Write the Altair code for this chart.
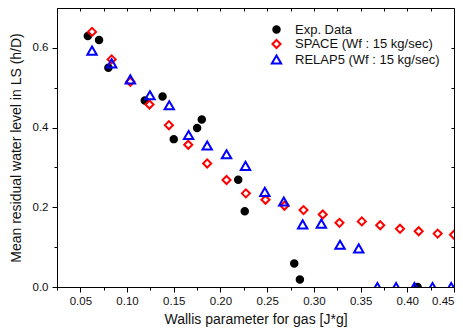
import altair as alt
import pandas as pd

series_names = ["Exp. Data", "SPACE (Wf : 15 kg/sec)", "RELAP5 (Wf : 15 kg/sec)"]

exp_x = [0.058, 0.070, 0.080, 0.119, 0.138, 0.150, 0.175, 0.180, 0.219, 0.226, 0.279, 0.285, 0.411]
exp_y = [0.63, 0.62, 0.55, 0.468, 0.478, 0.371, 0.399, 0.42, 0.269, 0.19, 0.059, 0.019, 0.0]

space_x = [0.0625, 0.0835, 0.1035, 0.124, 0.1448, 0.1655, 0.1858, 0.2065, 0.2272, 0.2482,
           0.2685, 0.2889, 0.3095, 0.3274, 0.3513, 0.371, 0.3922, 0.4122, 0.4325, 0.45]
space_y = [0.64, 0.571, 0.515, 0.458, 0.406, 0.357, 0.31, 0.2685, 0.235, 0.219,
           0.204, 0.193, 0.182, 0.161, 0.1646, 0.155, 0.146, 0.14, 0.134, 0.131]

relap_x = [0.0625, 0.0835, 0.1035, 0.1245, 0.1452, 0.1659, 0.1858, 0.2065, 0.2268, 0.2475,
           0.2678, 0.288, 0.308, 0.328, 0.348, 0.368, 0.388, 0.4076, 0.427, 0.447]
relap_y = [0.593, 0.561, 0.521, 0.481, 0.456, 0.3815, 0.355, 0.333, 0.304, 0.2386,
           0.2145, 0.157, 0.159, 0.106, 0.097, 0.0, 0.0, 0.0, 0.0, 0.0]

x_major = [0.05, 0.10, 0.15, 0.20, 0.25, 0.30, 0.35, 0.40, 0.45]
x_minor = [0.025, 0.075, 0.125, 0.175, 0.225, 0.275, 0.325, 0.375, 0.425]
x_all = [0.025, 0.05, 0.075, 0.10, 0.125, 0.15, 0.175, 0.20, 0.225, 0.25, 0.275, 0.30,
         0.325, 0.35, 0.375, 0.40, 0.425, 0.45]
y_major = [0.0, 0.2, 0.4, 0.6]
y_minor = [0.1, 0.3, 0.5]
y_all = [0.1, 0.2, 0.3, 0.4, 0.5, 0.6]

rows = []
for name, xs, ys in zip(series_names, [exp_x, space_x, relap_x], [exp_y, space_y, relap_y]):
    for a, b in zip(xs, ys):
        rows.append({"series": name, "x": a, "y": b})
df = pd.DataFrame(rows)

FONT = "Liberation Sans"
xscale = alt.Scale(domain=[0.025, 0.45], nice=False, zero=False)
yscale = alt.Scale(domain=[0.0, 0.7], nice=False, zero=False)

legend = alt.Legend(title=None, orient="none", legendX=213, legendY=15, padding=0,
                    rowPadding=-1.5, labelOffset=12, labelFont=FONT, labelFontSize=13,
                    labelColor="#111", symbolStrokeWidth=2, labelLimit=300)

main = alt.Chart(df).mark_point(clip=True, opacity=1, strokeWidth=2).encode(
    x=alt.X("x:Q", scale=xscale, axis=alt.Axis(
        orient="bottom", values=x_major, format=".2f", tickSize=5, labelPadding=3,
        labelFont=FONT, labelFontSize=11.5, labelColor="#111",
        title="Wallis parameter for gas [J*g]", titleFont=FONT, titleFontSize=14,
        titleFontWeight="normal", titleColor="#111", titlePadding=6,
        grid=False, domainColor="black", tickColor="black")),
    y=alt.Y("y:Q", scale=yscale, axis=alt.Axis(
        orient="left", values=y_major, format=".1f", tickSize=5, labelPadding=4,
        labelFont=FONT, labelFontSize=11.5, labelColor="#111",
        title="Mean residual water level in LS (h/D)", titleFont=FONT, titleFontSize=14,
        titleFontWeight="normal", titleColor="#111", titlePadding=9,
        grid=False, domainColor="black", tickColor="black")),
    shape=alt.Shape("series:N", scale=alt.Scale(domain=series_names,
                    range=["circle", "diamond", "triangle-up"]), legend=legend),
    stroke=alt.Stroke("series:N", scale=alt.Scale(domain=series_names,
                      range=["black", "#ff0000", "#0000ff"]), legend=legend),
    fill=alt.Fill("series:N", scale=alt.Scale(domain=series_names,
                  range=["black", "transparent", "transparent"]), legend=legend),
    size=alt.Size("series:N", scale=alt.Scale(domain=series_names,
                  range=[42, 88, 100]), legend=legend),
)

minor = alt.Chart(df).mark_point(opacity=0).encode(
    x=alt.X("x:Q", scale=xscale, axis=alt.Axis(
        orient="bottom", values=x_minor, tickSize=3, labels=False, domain=False,
        grid=False, title=None, tickColor="black")),
    y=alt.Y("y:Q", scale=yscale, axis=alt.Axis(
        orient="left", values=y_minor, tickSize=3, labels=False, domain=False,
        grid=False, title=None, tickColor="black")),
)

mirror = alt.Chart(df).mark_point(opacity=0).encode(
    x=alt.X("x:Q", scale=xscale, axis=alt.Axis(
        orient="top", values=x_all, tickSize=3, offset=-3, labels=False, domain=False,
        grid=False, title=None, tickColor="black")),
    y=alt.Y("y:Q", scale=yscale, axis=alt.Axis(
        orient="right", values=y_all, tickSize=3, offset=-3, labels=False, domain=False,
        grid=False, title=None, tickColor="black")),
)

chart = alt.layer(main, minor, mirror).resolve_axis(
    x="independent", y="independent"
).properties(
    width=397, height=279,
    padding={"left": 49, "top": 0, "right": 1, "bottom": 40},
    autosize=alt.AutoSizeParams(type="none"),
).configure_view(stroke="black", strokeWidth=1)

chart.save("out.html", embed_options={"renderer": "svg", "actions": False})
